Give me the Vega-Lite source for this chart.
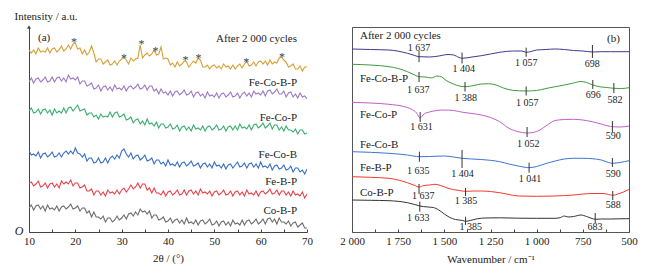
{
  "$schema": "https://vega.github.io/schema/vega-lite/v6.json",
  "padding": {"left": 14, "top": 10, "right": 10, "bottom": 4},
  "bounds": "flush",
  "spacing": 45,
  "background": "white",
  "config": {
    "font": "Liberation Serif",
    "view": {"stroke": null},
    "axis": {"labelFont": "Liberation Serif", "titleFont": "Liberation Serif", "labelFontSize": 11, "titleFontSize": 11, "titleFontWeight": "normal", "labelColor": "#222", "titleColor": "#222", "domainColor": "#444", "tickColor": "#444", "grid": false},
    "text": {"font": "Liberation Serif", "color": "#222", "fontWeight": "normal"}
  },
  "resolve": {"scale": {"x": "independent", "y": "independent", "color": "independent"}},
  "datasets": {
    "xrd": [
      {"theta":10,"After":182,"FeCoBP":150,"FeCoP":121,"FeCoB":81,"FeBP":49,"CoBP":24},
      {"theta":10.5,"After":179,"FeCoBP":154,"FeCoP":124,"FeCoB":77,"FeBP":50,"CoBP":27},
      {"theta":11,"After":182,"FeCoBP":149,"FeCoP":119,"FeCoB":78,"FeBP":46,"CoBP":22},
      {"theta":11.5,"After":178,"FeCoBP":153,"FeCoP":120,"FeCoB":76,"FeBP":48,"CoBP":26},
      {"theta":12,"After":184,"FeCoBP":154,"FeCoP":123,"FeCoB":80,"FeBP":51,"CoBP":27},
      {"theta":12.5,"After":180,"FeCoBP":150,"FeCoP":118,"FeCoB":74,"FeBP":45,"CoBP":23},
      {"theta":13,"After":181,"FeCoBP":152,"FeCoP":122,"FeCoB":78,"FeBP":46,"CoBP":26},
      {"theta":13.5,"After":180,"FeCoBP":155,"FeCoP":123,"FeCoB":79,"FeBP":49,"CoBP":21},
      {"theta":14,"After":184,"FeCoBP":150,"FeCoP":119,"FeCoB":75,"FeBP":44,"CoBP":27},
      {"theta":14.5,"After":179,"FeCoBP":151,"FeCoP":122,"FeCoB":77,"FeBP":48,"CoBP":23},
      {"theta":15,"After":183,"FeCoBP":155,"FeCoP":117,"FeCoB":80,"FeBP":49,"CoBP":24},
      {"theta":15.5,"After":184,"FeCoBP":150,"FeCoP":123,"FeCoB":75,"FeBP":45,"CoBP":22},
      {"theta":16,"After":180,"FeCoBP":154,"FeCoP":119,"FeCoB":76,"FeBP":48,"CoBP":26},
      {"theta":16.5,"After":182,"FeCoBP":155,"FeCoP":121,"FeCoB":79,"FeBP":44,"CoBP":21},
      {"theta":17,"After":186,"FeCoBP":151,"FeCoP":119,"FeCoB":75,"FeBP":51,"CoBP":25},
      {"theta":17.5,"After":181,"FeCoBP":154,"FeCoP":124,"FeCoB":79,"FeBP":48,"CoBP":26},
      {"theta":18,"After":183,"FeCoBP":150,"FeCoP":119,"FeCoB":81,"FeBP":50,"CoBP":23},
      {"theta":18.5,"After":187,"FeCoBP":157,"FeCoP":124,"FeCoB":78,"FeBP":48,"CoBP":25},
      {"theta":19,"After":183,"FeCoBP":153,"FeCoP":125,"FeCoB":81,"FeBP":52,"CoBP":28},
      {"theta":19.5,"After":188,"FeCoBP":154,"FeCoP":121,"FeCoB":78,"FeBP":46,"CoBP":23},
      {"theta":20,"After":189,"FeCoBP":152,"FeCoP":124,"FeCoB":84,"FeBP":49,"CoBP":24},
      {"theta":20.5,"After":183,"FeCoBP":155,"FeCoP":127,"FeCoB":79,"FeBP":49,"CoBP":26},
      {"theta":21,"After":184,"FeCoBP":148,"FeCoP":121,"FeCoB":78,"FeBP":44,"CoBP":21},
      {"theta":21.5,"After":178,"FeCoBP":151,"FeCoP":122,"FeCoB":75,"FeBP":45,"CoBP":24},
      {"theta":22,"After":182,"FeCoBP":151,"FeCoP":123,"FeCoB":78,"FeBP":47,"CoBP":24},
      {"theta":22.5,"After":177,"FeCoBP":146,"FeCoP":117,"FeCoB":71,"FeBP":41,"CoBP":19},
      {"theta":23,"After":180,"FeCoBP":147,"FeCoP":119,"FeCoB":74,"FeBP":41,"CoBP":21},
      {"theta":23.5,"After":186,"FeCoBP":149,"FeCoP":119,"FeCoB":74,"FeBP":43,"CoBP":15},
      {"theta":24,"After":179,"FeCoBP":143,"FeCoP":115,"FeCoB":69,"FeBP":37,"CoBP":20},
      {"theta":24.5,"After":170,"FeCoBP":144,"FeCoP":117,"FeCoB":70,"FeBP":41,"CoBP":15},
      {"theta":25,"After":173,"FeCoBP":147,"FeCoP":113,"FeCoB":74,"FeBP":41,"CoBP":15},
      {"theta":25.5,"After":173,"FeCoBP":141,"FeCoP":118,"FeCoB":69,"FeBP":37,"CoBP":13},
      {"theta":26,"After":168,"FeCoBP":145,"FeCoP":115,"FeCoB":70,"FeBP":40,"CoBP":16},
      {"theta":26.5,"After":170,"FeCoBP":146,"FeCoP":116,"FeCoB":74,"FeBP":36,"CoBP":10},
      {"theta":27,"After":172,"FeCoBP":142,"FeCoP":115,"FeCoB":69,"FeBP":42,"CoBP":14},
      {"theta":27.5,"After":167,"FeCoBP":145,"FeCoP":120,"FeCoB":74,"FeBP":39,"CoBP":14},
      {"theta":28,"After":168,"FeCoBP":141,"FeCoP":115,"FeCoB":76,"FeBP":40,"CoBP":10},
      {"theta":28.5,"After":171,"FeCoBP":147,"FeCoP":119,"FeCoB":73,"FeBP":38,"CoBP":12},
      {"theta":29,"After":167,"FeCoBP":143,"FeCoP":120,"FeCoB":77,"FeBP":42,"CoBP":16},
      {"theta":29.5,"After":171,"FeCoBP":144,"FeCoP":115,"FeCoB":74,"FeBP":38,"CoBP":12},
      {"theta":30,"After":173,"FeCoBP":142,"FeCoP":116,"FeCoB":81,"FeBP":42,"CoBP":14},
      {"theta":30.5,"After":175,"FeCoBP":146,"FeCoP":118,"FeCoB":83,"FeBP":44,"CoBP":17},
      {"theta":31,"After":172,"FeCoBP":141,"FeCoP":112,"FeCoB":78,"FeBP":40,"CoBP":13},
      {"theta":31.5,"After":168,"FeCoBP":145,"FeCoP":113,"FeCoB":75,"FeBP":43,"CoBP":18},
      {"theta":32,"After":174,"FeCoBP":146,"FeCoP":115,"FeCoB":79,"FeBP":47,"CoBP":19},
      {"theta":32.5,"After":171,"FeCoBP":143,"FeCoP":109,"FeCoB":73,"FeBP":43,"CoBP":16},
      {"theta":33,"After":173,"FeCoBP":145,"FeCoP":112,"FeCoB":76,"FeBP":45,"CoBP":20},
      {"theta":33.5,"After":174,"FeCoBP":148,"FeCoP":113,"FeCoB":77,"FeBP":49,"CoBP":17},
      {"theta":34,"After":187,"FeCoBP":143,"FeCoP":108,"FeCoB":72,"FeBP":44,"CoBP":23},
      {"theta":34.5,"After":174,"FeCoBP":144,"FeCoP":111,"FeCoB":74,"FeBP":48,"CoBP":20},
      {"theta":35,"After":177,"FeCoBP":147,"FeCoP":107,"FeCoB":77,"FeBP":48,"CoBP":21},
      {"theta":35.5,"After":179,"FeCoBP":142,"FeCoP":113,"FeCoB":71,"FeBP":42,"CoBP":18},
      {"theta":36,"After":176,"FeCoBP":146,"FeCoP":108,"FeCoB":72,"FeBP":44,"CoBP":21},
      {"theta":36.5,"After":178,"FeCoBP":146,"FeCoP":109,"FeCoB":74,"FeBP":39,"CoBP":14},
      {"theta":37,"After":182,"FeCoBP":141,"FeCoP":106,"FeCoB":68,"FeBP":44,"CoBP":17},
      {"theta":37.5,"After":177,"FeCoBP":143,"FeCoP":110,"FeCoB":72,"FeBP":39,"CoBP":17},
      {"theta":38,"After":178,"FeCoBP":138,"FeCoP":104,"FeCoB":72,"FeBP":39,"CoBP":12},
      {"theta":38.5,"After":185,"FeCoBP":143,"FeCoP":108,"FeCoB":68,"FeBP":37,"CoBP":13},
      {"theta":39,"After":173,"FeCoBP":139,"FeCoP":108,"FeCoB":70,"FeBP":41,"CoBP":15},
      {"theta":39.5,"After":174,"FeCoBP":140,"FeCoP":104,"FeCoB":66,"FeBP":36,"CoBP":10},
      {"theta":40,"After":173,"FeCoBP":137,"FeCoP":105,"FeCoB":72,"FeBP":40,"CoBP":11},
      {"theta":40.5,"After":167,"FeCoBP":141,"FeCoP":108,"FeCoB":67,"FeBP":41,"CoBP":14},
      {"theta":41,"After":169,"FeCoBP":136,"FeCoP":103,"FeCoB":68,"FeBP":37,"CoBP":9},
      {"theta":41.5,"After":165,"FeCoBP":140,"FeCoP":104,"FeCoB":66,"FeBP":39,"CoBP":12},
      {"theta":42,"After":170,"FeCoBP":141,"FeCoP":107,"FeCoB":70,"FeBP":42,"CoBP":13},
      {"theta":42.5,"After":166,"FeCoBP":137,"FeCoP":101,"FeCoB":65,"FeBP":37,"CoBP":9},
      {"theta":43,"After":168,"FeCoBP":139,"FeCoP":105,"FeCoB":69,"FeBP":38,"CoBP":12},
      {"theta":43.5,"After":171,"FeCoBP":142,"FeCoP":106,"FeCoB":70,"FeBP":42,"CoBP":8},
      {"theta":44,"After":170,"FeCoBP":137,"FeCoP":102,"FeCoB":66,"FeBP":37,"CoBP":14},
      {"theta":44.5,"After":165,"FeCoBP":138,"FeCoP":105,"FeCoB":68,"FeBP":41,"CoBP":9},
      {"theta":45,"After":168,"FeCoBP":141,"FeCoP":101,"FeCoB":71,"FeBP":42,"CoBP":10},
      {"theta":45.5,"After":171,"FeCoBP":135,"FeCoP":107,"FeCoB":66,"FeBP":38,"CoBP":8},
      {"theta":46,"After":169,"FeCoBP":139,"FeCoP":103,"FeCoB":67,"FeBP":41,"CoBP":12},
      {"theta":46.5,"After":174,"FeCoBP":140,"FeCoP":104,"FeCoB":69,"FeBP":37,"CoBP":7},
      {"theta":47,"After":172,"FeCoBP":136,"FeCoP":102,"FeCoB":64,"FeBP":43,"CoBP":11},
      {"theta":47.5,"After":165,"FeCoBP":138,"FeCoP":106,"FeCoB":68,"FeBP":39,"CoBP":12},
      {"theta":48,"After":165,"FeCoBP":134,"FeCoP":101,"FeCoB":69,"FeBP":40,"CoBP":8},
      {"theta":48.5,"After":167,"FeCoBP":140,"FeCoP":105,"FeCoB":65,"FeBP":38,"CoBP":10},
      {"theta":49,"After":163,"FeCoBP":136,"FeCoP":106,"FeCoB":68,"FeBP":41,"CoBP":13},
      {"theta":49.5,"After":166,"FeCoBP":137,"FeCoP":102,"FeCoB":64,"FeBP":36,"CoBP":7},
      {"theta":50,"After":167,"FeCoBP":135,"FeCoP":104,"FeCoB":70,"FeBP":40,"CoBP":8},
      {"theta":50.5,"After":164,"FeCoBP":139,"FeCoP":107,"FeCoB":66,"FeBP":41,"CoBP":11},
      {"theta":51,"After":166,"FeCoBP":134,"FeCoP":102,"FeCoB":67,"FeBP":37,"CoBP":6},
      {"theta":51.5,"After":163,"FeCoBP":138,"FeCoP":103,"FeCoB":64,"FeBP":39,"CoBP":10},
      {"theta":52,"After":168,"FeCoBP":139,"FeCoP":106,"FeCoB":68,"FeBP":42,"CoBP":11},
      {"theta":52.5,"After":165,"FeCoBP":135,"FeCoP":101,"FeCoB":63,"FeBP":37,"CoBP":7},
      {"theta":53,"After":166,"FeCoBP":137,"FeCoP":105,"FeCoB":67,"FeBP":38,"CoBP":10},
      {"theta":53.5,"After":163,"FeCoBP":140,"FeCoP":106,"FeCoB":68,"FeBP":41,"CoBP":6},
      {"theta":54,"After":167,"FeCoBP":135,"FeCoP":102,"FeCoB":64,"FeBP":36,"CoBP":12},
      {"theta":54.5,"After":163,"FeCoBP":136,"FeCoP":106,"FeCoB":67,"FeBP":40,"CoBP":8},
      {"theta":55,"After":166,"FeCoBP":139,"FeCoP":102,"FeCoB":70,"FeBP":41,"CoBP":9},
      {"theta":55.5,"After":168,"FeCoBP":134,"FeCoP":108,"FeCoB":65,"FeBP":37,"CoBP":7},
      {"theta":56,"After":164,"FeCoBP":138,"FeCoP":104,"FeCoB":66,"FeBP":40,"CoBP":12},
      {"theta":56.5,"After":168,"FeCoBP":140,"FeCoP":105,"FeCoB":69,"FeBP":36,"CoBP":7},
      {"theta":57,"After":171,"FeCoBP":136,"FeCoP":103,"FeCoB":64,"FeBP":42,"CoBP":11},
      {"theta":57.5,"After":166,"FeCoBP":139,"FeCoP":107,"FeCoB":68,"FeBP":38,"CoBP":12},
      {"theta":58,"After":167,"FeCoBP":135,"FeCoP":102,"FeCoB":69,"FeBP":39,"CoBP":8},
      {"theta":58.5,"After":170,"FeCoBP":141,"FeCoP":107,"FeCoB":65,"FeBP":37,"CoBP":10},
      {"theta":59,"After":166,"FeCoBP":138,"FeCoP":108,"FeCoB":68,"FeBP":41,"CoBP":13},
      {"theta":59.5,"After":170,"FeCoBP":139,"FeCoP":104,"FeCoB":64,"FeBP":36,"CoBP":8},
      {"theta":60,"After":171,"FeCoBP":137,"FeCoP":106,"FeCoB":70,"FeBP":40,"CoBP":10},
      {"theta":60.5,"After":168,"FeCoBP":141,"FeCoP":109,"FeCoB":65,"FeBP":41,"CoBP":13},
      {"theta":61,"After":171,"FeCoBP":136,"FeCoP":104,"FeCoB":66,"FeBP":38,"CoBP":8},
      {"theta":61.5,"After":167,"FeCoBP":141,"FeCoP":106,"FeCoB":64,"FeBP":40,"CoBP":13},
      {"theta":62,"After":172,"FeCoBP":142,"FeCoP":109,"FeCoB":68,"FeBP":43,"CoBP":14},
      {"theta":62.5,"After":168,"FeCoBP":138,"FeCoP":103,"FeCoB":62,"FeBP":38,"CoBP":10},
      {"theta":63,"After":170,"FeCoBP":140,"FeCoP":107,"FeCoB":66,"FeBP":39,"CoBP":13},
      {"theta":63.5,"After":169,"FeCoBP":143,"FeCoP":107,"FeCoB":67,"FeBP":42,"CoBP":8},
      {"theta":64,"After":174,"FeCoBP":138,"FeCoP":102,"FeCoB":63,"FeBP":37,"CoBP":14},
      {"theta":64.5,"After":175,"FeCoBP":138,"FeCoP":105,"FeCoB":64,"FeBP":41,"CoBP":10},
      {"theta":65,"After":172,"FeCoBP":141,"FeCoP":101,"FeCoB":67,"FeBP":41,"CoBP":10},
      {"theta":65.5,"After":170,"FeCoBP":135,"FeCoP":106,"FeCoB":62,"FeBP":37,"CoBP":8},
      {"theta":66,"After":165,"FeCoBP":139,"FeCoP":102,"FeCoB":63,"FeBP":40,"CoBP":11},
      {"theta":66.5,"After":166,"FeCoBP":140,"FeCoP":102,"FeCoB":66,"FeBP":36,"CoBP":6},
      {"theta":67,"After":168,"FeCoBP":135,"FeCoP":100,"FeCoB":60,"FeBP":41,"CoBP":9},
      {"theta":67.5,"After":163,"FeCoBP":138,"FeCoP":103,"FeCoB":64,"FeBP":37,"CoBP":10},
      {"theta":68,"After":163,"FeCoBP":134,"FeCoP":98,"FeCoB":64,"FeBP":38,"CoBP":5},
      {"theta":68.5,"After":166,"FeCoBP":139,"FeCoP":102,"FeCoB":60,"FeBP":36,"CoBP":7},
      {"theta":69,"After":161,"FeCoBP":135,"FeCoP":102,"FeCoB":62,"FeBP":40,"CoBP":9},
      {"theta":69.5,"After":165,"FeCoBP":136,"FeCoP":98,"FeCoB":58,"FeBP":34,"CoBP":4},
      {"theta":70,"After":165,"FeCoBP":133,"FeCoP":99,"FeCoB":63,"FeBP":38,"CoBP":4}
    ],
    "xrdLabels": [
      {"theta":67.85,"intensity":192.7,"label":"After 2 000 cycles"},
      {"theta":67.85,"intensity":149,"label":"Fe-Co-B-P"},
      {"theta":67.85,"intensity":113.7,"label":"Fe-Co-P"},
      {"theta":67.85,"intensity":77,"label":"Fe-Co-B"},
      {"theta":67.85,"intensity":49.7,"label":"Fe-B-P"},
      {"theta":67.85,"intensity":21.3,"label":"Co-B-P"}
    ],
    "stars": [
      {"theta":19.7,"intensity":192},
      {"theta":30.5,"intensity":176.3},
      {"theta":34.3,"intensity":190.3},
      {"theta":37.3,"intensity":183},
      {"theta":43.8,"intensity":174.3},
      {"theta":46.6,"intensity":176},
      {"theta":56.9,"intensity":172},
      {"theta":64.6,"intensity":177}
    ],
    "ftir": [
      {"w":2000,"s":"After","v":183},{"w":1900,"s":"After","v":182.5},{"w":1800,"s":"After","v":182},{"w":1700,"s":"After","v":178.7},{"w":1660,"s":"After","v":176.5},{"w":1637,"s":"After","v":175.3},{"w":1580,"s":"After","v":175},{"w":1530,"s":"After","v":176},{"w":1480,"s":"After","v":177.5},{"w":1450,"s":"After","v":177},{"w":1420,"s":"After","v":174.5},{"w":1404,"s":"After","v":173.7},{"w":1350,"s":"After","v":175},{"w":1300,"s":"After","v":176.3},{"w":1250,"s":"After","v":178},{"w":1200,"s":"After","v":179.7},{"w":1130,"s":"After","v":181},{"w":1080,"s":"After","v":181},{"w":1057,"s":"After","v":179.7},{"w":1030,"s":"After","v":180.5},{"w":1000,"s":"After","v":182},{"w":950,"s":"After","v":182.5},{"w":900,"s":"After","v":183},{"w":850,"s":"After","v":182.5},{"w":800,"s":"After","v":181.5},{"w":750,"s":"After","v":181},{"w":698,"s":"After","v":180},{"w":650,"s":"After","v":180.3},{"w":600,"s":"After","v":180.3},{"w":500,"s":"After","v":180.3},
      {"w":2000,"s":"FeCoBP","v":167.7},{"w":1900,"s":"FeCoBP","v":167},{"w":1800,"s":"FeCoBP","v":165.3},{"w":1750,"s":"FeCoBP","v":163.5},{"w":1700,"s":"FeCoBP","v":160.3},{"w":1660,"s":"FeCoBP","v":157},{"w":1637,"s":"FeCoBP","v":155.3},{"w":1600,"s":"FeCoBP","v":155},{"w":1570,"s":"FeCoBP","v":154},{"w":1540,"s":"FeCoBP","v":156},{"w":1515,"s":"FeCoBP","v":155},{"w":1490,"s":"FeCoBP","v":151.5},{"w":1450,"s":"FeCoBP","v":148},{"w":1420,"s":"FeCoBP","v":146},{"w":1388,"s":"FeCoBP","v":145.3},{"w":1340,"s":"FeCoBP","v":146.5},{"w":1300,"s":"FeCoBP","v":148},{"w":1260,"s":"FeCoBP","v":148.3},{"w":1220,"s":"FeCoBP","v":147},{"w":1180,"s":"FeCoBP","v":144},{"w":1130,"s":"FeCoBP","v":141.7},{"w":1057,"s":"FeCoBP","v":141},{"w":1000,"s":"FeCoBP","v":141.5},{"w":950,"s":"FeCoBP","v":143.5},{"w":900,"s":"FeCoBP","v":145.3},{"w":850,"s":"FeCoBP","v":147},{"w":800,"s":"FeCoBP","v":149},{"w":760,"s":"FeCoBP","v":150.5},{"w":730,"s":"FeCoBP","v":149.5},{"w":696,"s":"FeCoBP","v":147},{"w":650,"s":"FeCoBP","v":145},{"w":620,"s":"FeCoBP","v":144.5},{"w":582,"s":"FeCoBP","v":143.7},{"w":540,"s":"FeCoBP","v":143.5},{"w":500,"s":"FeCoBP","v":144.3},
      {"w":2000,"s":"FeCoP","v":129.7},{"w":1900,"s":"FeCoP","v":129},{"w":1800,"s":"FeCoP","v":127.7},{"w":1720,"s":"FeCoP","v":125.5},{"w":1680,"s":"FeCoP","v":123},{"w":1650,"s":"FeCoP","v":119},{"w":1631,"s":"FeCoP","v":114},{"w":1610,"s":"FeCoP","v":118},{"w":1580,"s":"FeCoP","v":120},{"w":1540,"s":"FeCoP","v":121.5},{"w":1500,"s":"FeCoP","v":122},{"w":1450,"s":"FeCoP","v":121.5},{"w":1400,"s":"FeCoP","v":119.7},{"w":1350,"s":"FeCoP","v":118.5},{"w":1300,"s":"FeCoP","v":117},{"w":1250,"s":"FeCoP","v":114.5},{"w":1200,"s":"FeCoP","v":110.3},{"w":1150,"s":"FeCoP","v":103.7},{"w":1100,"s":"FeCoP","v":100.3},{"w":1052,"s":"FeCoP","v":99},{"w":1000,"s":"FeCoP","v":100.5},{"w":950,"s":"FeCoP","v":106},{"w":900,"s":"FeCoP","v":111.5},{"w":850,"s":"FeCoP","v":112.5},{"w":800,"s":"FeCoP","v":112.7},{"w":750,"s":"FeCoP","v":112},{"w":700,"s":"FeCoP","v":110.3},{"w":650,"s":"FeCoP","v":108},{"w":600,"s":"FeCoP","v":105.5},{"w":590,"s":"FeCoP","v":105.3},{"w":550,"s":"FeCoP","v":105},{"w":500,"s":"FeCoP","v":106},
      {"w":2000,"s":"FeCoB","v":80.3},{"w":1900,"s":"FeCoB","v":79.7},{"w":1800,"s":"FeCoB","v":78.7},{"w":1700,"s":"FeCoB","v":77},{"w":1635,"s":"FeCoB","v":75.3},{"w":1580,"s":"FeCoB","v":75.5},{"w":1500,"s":"FeCoB","v":76},{"w":1450,"s":"FeCoB","v":75},{"w":1404,"s":"FeCoB","v":73.7},{"w":1300,"s":"FeCoB","v":72.5},{"w":1200,"s":"FeCoB","v":70.3},{"w":1150,"s":"FeCoB","v":68},{"w":1100,"s":"FeCoB","v":66},{"w":1041,"s":"FeCoB","v":64.3},{"w":1000,"s":"FeCoB","v":65.5},{"w":950,"s":"FeCoB","v":68.5},{"w":900,"s":"FeCoB","v":71},{"w":850,"s":"FeCoB","v":73},{"w":800,"s":"FeCoB","v":73.7},{"w":750,"s":"FeCoB","v":73.7},{"w":700,"s":"FeCoB","v":73.3},{"w":650,"s":"FeCoB","v":72},{"w":610,"s":"FeCoB","v":69.5},{"w":590,"s":"FeCoB","v":68.7},{"w":550,"s":"FeCoB","v":69.5},{"w":500,"s":"FeCoB","v":71.3},
      {"w":2000,"s":"FeBP","v":55.3},{"w":1900,"s":"FeBP","v":54.7},{"w":1800,"s":"FeBP","v":53.7},{"w":1750,"s":"FeBP","v":52},{"w":1700,"s":"FeBP","v":49.3},{"w":1660,"s":"FeBP","v":46.5},{"w":1637,"s":"FeBP","v":45},{"w":1610,"s":"FeBP","v":46.5},{"w":1580,"s":"FeBP","v":47},{"w":1550,"s":"FeBP","v":47.7},{"w":1520,"s":"FeBP","v":46.5},{"w":1480,"s":"FeBP","v":43.7},{"w":1420,"s":"FeBP","v":41.5},{"w":1385,"s":"FeBP","v":40.7},{"w":1340,"s":"FeBP","v":41},{"w":1300,"s":"FeBP","v":41},{"w":1250,"s":"FeBP","v":40.5},{"w":1200,"s":"FeBP","v":39.3},{"w":1150,"s":"FeBP","v":37.5},{"w":1100,"s":"FeBP","v":36},{"w":1000,"s":"FeBP","v":35.7},{"w":900,"s":"FeBP","v":36},{"w":800,"s":"FeBP","v":37},{"w":700,"s":"FeBP","v":38.5},{"w":640,"s":"FeBP","v":38.5},{"w":600,"s":"FeBP","v":37},{"w":588,"s":"FeBP","v":36.7},{"w":560,"s":"FeBP","v":38},{"w":530,"s":"FeBP","v":40},{"w":500,"s":"FeBP","v":42.5},
      {"w":2000,"s":"CoBP","v":32},{"w":1900,"s":"CoBP","v":31.7},{"w":1800,"s":"CoBP","v":31.3},{"w":1700,"s":"CoBP","v":29.3},{"w":1660,"s":"CoBP","v":27.5},{"w":1633,"s":"CoBP","v":26},{"w":1590,"s":"CoBP","v":25},{"w":1560,"s":"CoBP","v":24.5},{"w":1530,"s":"CoBP","v":22},{"w":1500,"s":"CoBP","v":18},{"w":1470,"s":"CoBP","v":14.5},{"w":1440,"s":"CoBP","v":12.5},{"w":1400,"s":"CoBP","v":11.5},{"w":1385,"s":"CoBP","v":10.7},{"w":1360,"s":"CoBP","v":11.5},{"w":1320,"s":"CoBP","v":13.3},{"w":1280,"s":"CoBP","v":14},{"w":1200,"s":"CoBP","v":14.2},{"w":1100,"s":"CoBP","v":13.8},{"w":1000,"s":"CoBP","v":13.7},{"w":900,"s":"CoBP","v":13.7},{"w":870,"s":"CoBP","v":14.5},{"w":850,"s":"CoBP","v":16},{"w":830,"s":"CoBP","v":15},{"w":800,"s":"CoBP","v":15.5},{"w":760,"s":"CoBP","v":17},{"w":730,"s":"CoBP","v":15.5},{"w":700,"s":"CoBP","v":13.5},{"w":683,"s":"CoBP","v":12.7},{"w":650,"s":"CoBP","v":13},{"w":600,"s":"CoBP","v":13},{"w":550,"s":"CoBP","v":13.2},{"w":500,"s":"CoBP","v":13.3}
    ],
    "peakTicks": [
      {"w":1637,"v":169.8,"v2":180.8},{"w":1404,"v":168.5,"v2":179.5},{"w":1057,"v":175.3,"v2":184.3},{"w":698,"v":174,"v2":187},
      {"w":1637,"v":150,"v2":160},{"w":1388,"v":140.5,"v2":150},{"w":1057,"v":136.5,"v2":145.5},{"w":696,"v":143,"v2":152},{"w":582,"v":139,"v2":149},
      {"w":1631,"v":110,"v2":120},{"w":1052,"v":95,"v2":105},{"w":590,"v":100,"v2":111},
      {"w":1635,"v":70.3,"v2":80.3},{"w":1404,"v":64,"v2":82},{"w":1041,"v":59.3,"v2":69.3},{"w":590,"v":65,"v2":74},
      {"w":1637,"v":38,"v2":48},{"w":1385,"v":36,"v2":44},{"w":588,"v":32,"v2":41},
      {"w":1633,"v":20.3,"v2":30.3},{"w":1385,"v":7,"v2":15.3},{"w":683,"v":9,"v2":19}
    ],
    "peakLabels": [
      {"w":1637,"v":183.7,"t":"1 637"},{"w":1395,"v":163,"t":"1 404"},{"w":1057,"v":169.3,"t":"1 057"},{"w":699,"v":167.7,"t":"698"},
      {"w":1641,"v":142,"t":"1 637"},{"w":1384,"v":134.3,"t":"1 388"},{"w":1051,"v":128.7,"t":"1 057"},{"w":693,"v":137,"t":"696"},{"w":576,"v":132,"t":"582"},
      {"w":1623,"v":105.3,"t":"1 631"},{"w":1045,"v":88,"t":"1 052"},{"w":585,"v":95.7,"t":"590"},
      {"w":1641,"v":61.3,"t":"1 635"},{"w":1401,"v":58,"t":"1 404"},{"w":1036,"v":52.7,"t":"1 041"},{"w":585,"v":58,"t":"590"},
      {"w":1614,"v":36,"t":"1 637"},{"w":1382,"v":31,"t":"1 385"},{"w":585,"v":27,"t":"588"},
      {"w":1641,"v":13.7,"t":"1 633"},{"w":1357,"v":4.7,"t":"1 385"},{"w":684,"v":4.7,"t":"683"}
    ],
    "ftirLabels": [
      {"w":1957,"v":196.5,"t":"After 2 000 cycles"},
      {"w":1957,"v":153,"t":"Fe-Co-B-P"},
      {"w":1957,"v":117,"t":"Fe-Co-P"},
      {"w":1957,"v":87,"t":"Fe-Co-B"},
      {"w":1957,"v":64,"t":"Fe-B-P"},
      {"w":1957,"v":39.3,"t":"Co-B-P"}
    ]
  },
  "hconcat": [
    {
      "width": 278,
      "height": 205,
      "encoding": {
        "x": {"field": "theta", "type": "quantitative", "scale": {"domain": [10,70], "nice": false, "zero": false},
          "axis": {"title": "2θ / (°)", "values": [10,15,20,25,30,35,40,45,50,55,60,65,70], "labelExpr": "datum.value % 10 === 0 ? datum.label : ''", "labelFlush": false, "labelOverlap": false, "tickSize": -3, "labelPadding": 6, "titlePadding": 6}},
        "y": {"field": "intensity", "type": "quantitative", "scale": {"domain": [0,205], "nice": false, "zero": false},
          "axis": {"title": "Intensity / a.u.", "ticks": false, "labels": false, "domain": true, "titleAngle": 0, "titleAlign": "left", "titleBaseline": "middle", "titleX": -15, "titleY": -11}}
      },
      "layer": [
        {
          "data": {"name": "xrd"},
          "transform": [{"fold": ["After","FeCoBP","FeCoP","FeCoB","FeBP","CoBP"], "as": ["series","intensity"]}],
          "mark": {"type": "line", "strokeWidth": 1.1, "clip": true},
          "encoding": {
            "color": {"field": "series", "type": "nominal", "legend": null,
              "scale": {"domain": ["After","FeCoBP","FeCoP","FeCoB","FeBP","CoBP"], "range": ["#D6A035","#9C7AC6","#3CAD72","#3870C4","#E8434B","#6E6E6E"]}}
          }
        },
        {
          "data": {"name": "stars"},
          "mark": {"type": "text", "text": "*", "fontSize": 12, "baseline": "alphabetic", "dy": 6, "color": "#444"}
        },
        {
          "data": {"name": "xrdLabels"},
          "mark": {"type": "text", "align": "right", "baseline": "middle", "fontSize": 11},
          "encoding": {"text": {"field": "label"}}
        },
        {
          "data": {"values": [{"theta": 11.94, "intensity": 194.3, "label": "(a)"}]},
          "mark": {"type": "text", "align": "left", "baseline": "middle", "fontSize": 11},
          "encoding": {"text": {"field": "label"}}
        },
        {
          "data": {"values": [{"theta": 10, "intensity": 0, "label": "O"}]},
          "mark": {"type": "text", "align": "center", "baseline": "middle", "fontSize": 12, "fontStyle": "italic", "dx": -10, "dy": -1},
          "encoding": {"text": {"field": "label"}}
        },
        {
          "data": {"values": [{"theta": 10, "intensity": 205}]},
          "mark": {"type": "point", "shape": "triangle-up", "filled": true, "size": 16, "color": "#444", "opacity": 1}
        }
      ]
    },
    {
      "width": 277,
      "height": 205,
      "view": {"stroke": "#555", "strokeWidth": 1},
      "encoding": {
        "x": {"field": "w", "type": "quantitative", "scale": {"domain": [500,2000], "reverse": true, "nice": false, "zero": false},
          "axis": {"title": "Wavenumber / cm⁻¹", "values": [500,625,750,875,1000,1125,1250,1375,1500,1625,1750,1875,2000], "labelExpr": "datum.value % 250 === 0 ? replace(format(datum.value, ','), ',', ' ') : ''", "labelFlush": false, "labelOverlap": false, "tickSize": -3, "labelPadding": 6, "titlePadding": 7, "domain": false}},
        "y": {"field": "v", "type": "quantitative", "scale": {"domain": [0,205], "nice": false, "zero": false}, "axis": null}
      },
      "layer": [
        {
          "data": {"name": "ftir"},
          "mark": {"type": "line", "strokeWidth": 1, "interpolate": "monotone"},
          "encoding": {
            "color": {"field": "s", "type": "nominal", "legend": null,
              "scale": {"domain": ["After","FeCoBP","FeCoP","FeCoB","FeBP","CoBP"], "range": ["#3C3B8C","#3F9A3F","#C35FC6","#3E74D2","#F2392F","#333333"]}}
          }
        },
        {
          "data": {"name": "peakTicks"},
          "mark": {"type": "rule", "strokeWidth": 1, "color": "#333"},
          "encoding": {"y2": {"field": "v2"}}
        },
        {
          "data": {"name": "peakLabels"},
          "mark": {"type": "text", "align": "center", "baseline": "middle", "fontSize": 10},
          "encoding": {"text": {"field": "t"}}
        },
        {
          "data": {"name": "ftirLabels"},
          "mark": {"type": "text", "align": "left", "baseline": "middle", "fontSize": 11},
          "encoding": {"text": {"field": "t"}}
        },
        {
          "data": {"values": [{"w": 549, "v": 193, "t": "(b)"}]},
          "mark": {"type": "text", "align": "right", "baseline": "middle", "fontSize": 11},
          "encoding": {"text": {"field": "t"}}
        }
      ]
    }
  ]
}
